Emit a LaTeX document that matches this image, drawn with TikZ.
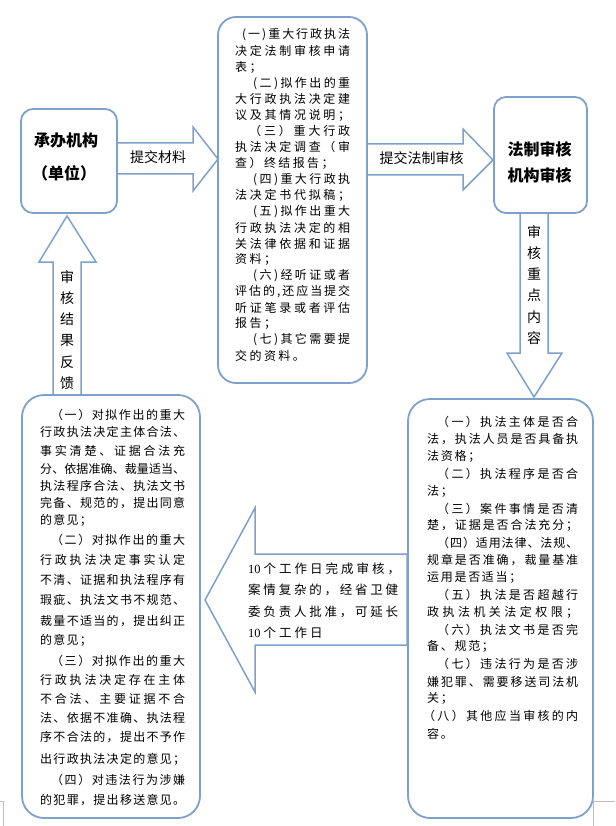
\documentclass[tikz,border=0pt]{standalone}
\usepackage{fontspec}
\setmainfont{Noto Sans CJK SC}
\newfontfamily\lat{Liberation Serif}
\definecolor{bl}{RGB}{126,161,203}
\definecolor{mk}{RGB}{191,191,191}
\makeatletter
\def\my@sep{}
\def\my@first#1{#1\my@next}
\def\my@next#1{\ifx\relax#1\else\my@sep#1\expandafter\my@next\fi}
\newcommand\JL[2]{\hbox to #1pt{\def\my@sep{\hskip 0pt plus 1fil\relax}\my@first#2\relax}}
\newcommand\NL[2]{\hbox{\def\my@sep{\hskip #1pt\relax}\my@first#2\relax}}
\makeatother
\tikzset{
  box/.style={draw=bl, line width=1.8pt, fill=white, inner sep=0pt},
  blk/.style={draw=bl, line width=1.5pt, fill=white, line join=miter},
  txt/.style={inner sep=0pt, anchor=west, font=\fontsize{12}{12}\selectfont},
  atxt/.style={inner sep=0pt, anchor=west, font=\fontsize{12.5}{12.5}\selectfont},
  ttl/.style={inner sep=0pt, font=\fontsize{16}{16}\selectfont\bfseries},
  lbl/.style={inner sep=0pt, font=\fontsize{14}{14}\selectfont},
  vlbl/.style={inner sep=0pt, align=center, font=\fontsize{14}{21.2}\selectfont},
  cornermark/.style={draw=mk, line width=0.75pt}
}
\begin{document}
\begin{tikzpicture}[x=1pt,y=-1pt]
\useasboundingbox (0,0) rectangle (615,826);
% corner marks
\draw[cornermark] (0,801) -- (3.5,801) -- (3.5,826);
\draw[cornermark] (615,801) -- (593.5,801) -- (593.5,826);
% block arrows
\draw[blk] (117,143) -- (193,143) -- (193,127) -- (218,159) -- (193,191) -- (193,174) -- (117,174) -- cycle;
\draw[blk] (367,144) -- (463,144) -- (463,129) -- (493,160) -- (463,190) -- (463,175) -- (367,175) -- cycle;
\draw[blk] (520,213) -- (548,213) -- (548,353) -- (562,353) -- (534,397) -- (507,353) -- (520,353) -- cycle;
\draw[blk] (407,554) -- (255,554) -- (255,508) -- (205,600) -- (255,692) -- (255,645) -- (407,645) -- cycle;
\draw[blk] (53,395) -- (53,262) -- (39,262) -- (67,216) -- (96,262) -- (81,262) -- (81,395) -- cycle;
% boxes
\node[box, rounded corners=12pt, minimum width=96pt, minimum height=104pt] (A) at (69,161) {};
\node[box, rounded corners=18pt, minimum width=149pt, minimum height=366pt] (B) at (292.5,200) {};
\node[box, rounded corners=12pt, minimum width=93pt, minimum height=116pt] (C) at (540.5,155) {};
\node[box, rounded corners=22pt, minimum width=185pt, minimum height=419pt] (D) at (500.5,608.5) {};
\node[box, rounded corners=22pt, minimum width=178pt, minimum height=423pt] (E) at (111,606.5) {};
% titles
\node[ttl] (a1) at (66,140) {承办机构};
\node[ttl] (a2) at (64,173) {（单位）};
\node[ttl] (c1) at (539.5,149) {法制审核};
\node[ttl] (c2) at (539.5,175) {机构审核};
% arrow labels
\node[lbl] (l1) at (158,157) {提交材料};
\node[lbl] (l2) at (421.5,158) {提交法制审核};
\node[vlbl] (v1) at (534,285) {审\\核\\重\\点\\内\\容};
\node[vlbl] (v2) at (67,330) {审\\核\\结\\果\\反\\馈};
% box B text
\node[txt] (b1) at (242,35) {\JL{108}{(一)重大行政执法}};
\node[txt] (b2) at (235,51.05) {\JL{115}{决定法制审核申请}};
\node[txt] (b3) at (235,67.1) {\NL{2.4}{表；}};
\node[txt] (b4) at (253,83.15) {\JL{97}{(二)拟作出的重}};
\node[txt] (b5) at (235,99.2) {\JL{115}{大行政执法决定建}};
\node[txt] (b6) at (235,115.25) {\JL{115}{议及其情况说明；}};
\node[txt] (b7) at (249,131.3) {\JL{101}{（三）重大行政}};
\node[txt] (b8) at (235,147.35) {\JL{115}{执法决定调查（审}};
\node[txt] (b9) at (235,163.4) {\NL{2.4}{查）终结报告；}};
\node[txt] (b10) at (253,179.45) {\JL{97}{(四)重大行政执}};
\node[txt] (b11) at (235,195.5) {\JL{115}{法决定书代拟稿；}};
\node[txt] (b12) at (253,211.55) {\JL{97}{(五)拟作出重大}};
\node[txt] (b13) at (235,227.6) {\JL{115}{行政执法决定的相}};
\node[txt] (b14) at (235,243.65) {\JL{115}{关法律依据和证据}};
\node[txt] (b15) at (235,259.7) {\NL{2.4}{资料；}};
\node[txt] (b16) at (253,275.75) {\JL{97}{(六)经听证或者}};
\node[txt] (b17) at (235,291.8) {\JL{115}{评估的,还应当提交}};
\node[txt] (b18) at (235,307.85) {\JL{115}{听证笔录或者评估}};
\node[txt] (b19) at (235,323.9) {\NL{2.4}{报告；}};
\node[txt] (b20) at (253,339.95) {\JL{97}{(七)其它需要提}};
\node[txt] (b21) at (235,356) {\NL{2.4}{交的资料。}};
% box D text
\node[txt] (d1) at (437,422) {\JL{141}{（一）执法主体是否合}};
\node[txt] (d2) at (427,439.3) {\JL{151}{法，执法人员是否具备执}};
\node[txt] (d3) at (427,456.6) {\NL{1.7}{法资格；}};
\node[txt] (d4) at (437,473.9) {\JL{141}{（二）执法程序是否合}};
\node[txt] (d5) at (427,491.2) {\NL{1.7}{法；}};
\node[txt] (d6) at (437,508.5) {\JL{141}{（三）案件事情是否清}};
\node[txt] (d7) at (427,525.8) {\JL{151}{楚，证据是否合法充分；}};
\node[txt] (d8) at (437,543.1) {\JL{141}{（四）适用法律、法规、}};
\node[txt] (d9) at (427,560.4) {\JL{151}{规章是否准确，裁量基准}};
\node[txt] (d10) at (427,577.7) {\NL{1.7}{运用是否适当；}};
\node[txt] (d11) at (437,595) {\JL{141}{（五）执法是否超越行}};
\node[txt] (d12) at (427,612.3) {\JL{151}{政执法机关法定权限；}};
\node[txt] (d13) at (437,629.6) {\JL{141}{（六）执法文书是否完}};
\node[txt] (d14) at (427,646.9) {\NL{1.7}{备、规范；}};
\node[txt] (d15) at (437,664.2) {\JL{141}{（七）违法行为是否涉}};
\node[txt] (d16) at (427,681.5) {\JL{151}{嫌犯罪、需要移送司法机}};
\node[txt] (d17) at (427,698.8) {\NL{1.7}{关；}};
\node[txt] (d18) at (423,716.1) {\JL{155}{（八）其他应当审核的内}};
\node[txt] (d19) at (427,733.4) {\NL{1.7}{容。}};
% box E text
\node[txt] (e1) at (51,415) {\JL{134}{（一）对拟作出的重大}};
\node[txt] (e2) at (40,432) {\JL{145}{行政执法决定主体合法、}};
\node[txt] (e3) at (40,451) {\JL{145}{事实清楚、证据合法充}};
\node[txt] (e4) at (40,469) {\JL{145}{分、依据准确、裁量适当、}};
\node[txt] (e5) at (40,486) {\JL{145}{执法程序合法、执法文书}};
\node[txt] (e6) at (40,503) {\JL{145}{完备、规范的，提出同意}};
\node[txt] (e7) at (40,520) {\NL{1.2}{的意见；}};
\node[txt] (e8) at (51,540) {\JL{134}{（二）对拟作出的重大}};
\node[txt] (e9) at (40,560) {\JL{145}{行政执法决定事实认定}};
\node[txt] (e10) at (40,580) {\JL{145}{不清、证据和执法程序有}};
\node[txt] (e11) at (40,600) {\JL{145}{瑕疵、执法文书不规范、}};
\node[txt] (e12) at (40,621) {\JL{145}{裁量不适当的，提出纠正}};
\node[txt] (e13) at (40,640) {\NL{1.2}{的意见；}};
\node[txt] (e14) at (51,661) {\JL{134}{（三）对拟作出的重大}};
\node[txt] (e15) at (40,680) {\JL{145}{行政执法决定存在主体}};
\node[txt] (e16) at (40,699) {\JL{145}{不合法、主要证据不合}};
\node[txt] (e17) at (40,718) {\JL{145}{法、依据不准确、执法程}};
\node[txt] (e18) at (40,737) {\JL{145}{序不合法的，提出不予作}};
\node[txt] (e19) at (40,759) {\JL{145}{出行政执法决定的意见；}};
\node[txt] (e20) at (51,780) {\JL{134}{（四）对违法行为涉嫌}};
\node[txt] (e21) at (40,800) {\JL{145}{的犯罪，提出移送意见。}};
% left arrow text
\node[atxt] (t1) at (248,569) {\JL{152}{{{\lat 10}}个工作日完成审核，}};
\node[atxt] (t2) at (248,590) {\JL{150}{案情复杂的，经省卫健}};
\node[atxt] (t3) at (248,612) {\JL{150}{委负责人批准，可延长}};
\node[atxt] (t4) at (248,633) {\NL{3}{{{\lat 10}}个工作日}};
\end{tikzpicture}
\end{document}
